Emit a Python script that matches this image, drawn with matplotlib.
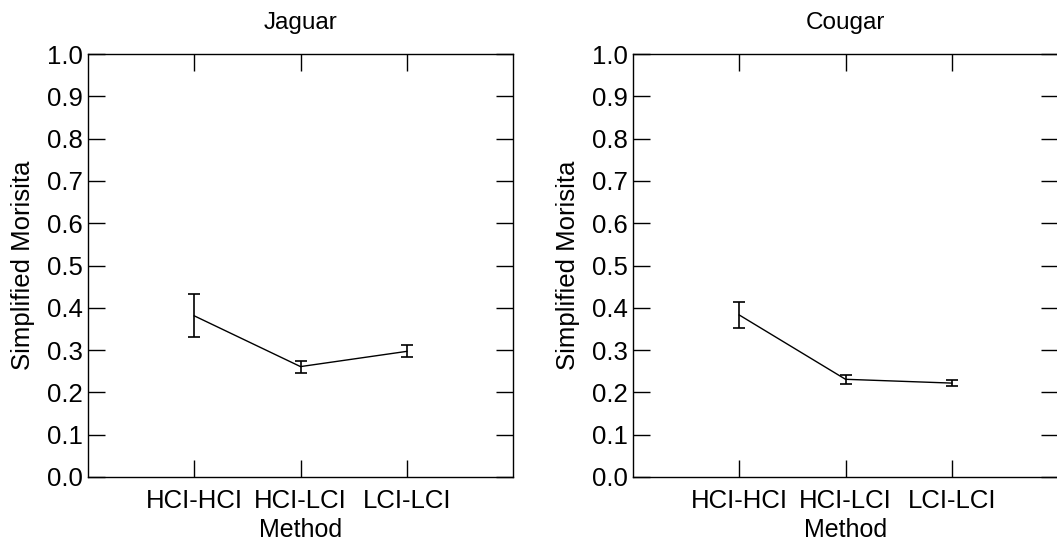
import matplotlib
matplotlib.use("Agg")
import matplotlib.pyplot as plt

plt.rcParams['font.family'] = ['Liberation Sans', 'DejaVu Sans']

methods = ['HCI-HCI', 'HCI-LCI', 'LCI-LCI']
jaguar_mean = [0.381, 0.261, 0.297]
jaguar_err = [0.051, 0.014, 0.014]
cougar_mean = [0.383, 0.231, 0.222]
cougar_err = [0.031, 0.010, 0.008]
y_ticks = [0.0, 0.1, 0.2, 0.3, 0.4, 0.5, 0.6, 0.7, 0.8, 0.9, 1.0]

fig = plt.figure(figsize=(10.57, 5.43), dpi=100)
# axes placed in figure fractions (pixels / figure size)
ax1 = fig.add_axes([88 / 1057, 1 - 477 / 543, 425 / 1057, 423 / 543])
ax2 = fig.add_axes([633 / 1057, 1 - 477 / 543, 425 / 1057, 423 / 543])

for ax, title, mean, err in [(ax1, 'Jaguar', jaguar_mean, jaguar_err),
                             (ax2, 'Cougar', cougar_mean, cougar_err)]:
    x = list(range(1, len(methods) + 1))
    ax.errorbar(x, mean, yerr=err, color='black', linewidth=1.0,
                elinewidth=1.2, capsize=4, capthick=1.2)
    ax.set_xlim(0, 4)
    ax.set_ylim(0, 1.0)
    ax.set_xticks(x)
    ax.set_xticklabels(methods)
    ax.set_yticks(y_ticks)
    ax.set_yticklabels([f'{t:.1f}' for t in y_ticks])
    ax.tick_params(direction='in', length=12, width=1.0, top=True, right=True,
                   labelsize=18.5, pad=4)
    ax.tick_params(axis='x', pad=9)
    for s in ax.spines.values():
        s.set_linewidth(1.0)
    ax.set_xlabel('Method', fontsize=18, labelpad=3)
    ax.set_ylabel('Simplified Morisita', fontsize=18.5, labelpad=8)
    ax.set_title(title, fontsize=17.5, pad=18)

fig.savefig('out.png', dpi=100)
